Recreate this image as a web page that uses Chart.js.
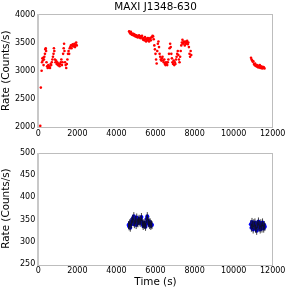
<!DOCTYPE html>
<html><head><meta charset="utf-8">
<script src="https://cdn.jsdelivr.net/npm/chart.js@4.4.0/dist/chart.umd.min.js"></script>
<style>
html,body{margin:0;padding:0;background:#fff;}
#wrap{position:relative;width:289px;height:290px;}
.c{position:absolute;left:0;width:289px;height:145px;}
</style></head><body>
<div id="wrap">
<div class="c" style="top:0"><canvas id="top"></canvas></div>
<div class="c" style="top:145px"><canvas id="bot"></canvas></div>
</div>
<script>
const title = "MAXI J1348-630";
const xTicks = [0,2000,4000,6000,8000,10000,12000];
const topYTicks = [2000,2500,3000,3500,4000];
const botYTicks = [250,300,350,400,450,500];

const topT0 = [100,130];
const topR0 = [2020,2700];
const topT1 = [170,190,210,230,250,270,290,310,340,360,380,400,420,450,480,510,540,570,600,630,660,690,720,750,780,800,820,850,880,910,940,970,1000,1030,1060,1090,1120,1150,1180,1210,1240,1270,1300,1320,1340,1370,1400,1430,1460,1490,1520,1550,1580,1610,1640,1670,1700,1730,1760,1790,1820,1850,1880,1910,1940,1970];
const topR1 = [3000,3150,3220,3180,3230,3100,3200,3250,3300,3380,3400,3350,3150,3080,3050,3100,3060,3080,3050,3120,3100,3150,3200,3250,3300,3400,3350,3200,3150,3180,3120,3150,3100,3130,3100,3080,3120,3150,3200,3100,3150,3300,3400,3480,3350,3150,3100,3050,3120,3200,3300,3350,3300,3400,3420,3450,3400,3450,3470,3430,3450,3480,3420,3460,3500,3450];
const topT2 = [4650,4680,4710,4740,4770,4800,4830,4860,4890,4920,4950,4980,5010,5040,5070,5100,5130,5160,5190,5220,5250,5280,5310,5340,5370,5400,5430,5460,5490,5520,5550,5580,5610,5640,5670,5700,5730,5760,5790,5820,5850,5880,5910,5940,5970,6000,6030,6060,6090,6120,6150,6180,6210,6240,6270,6300,6330,6360,6390,6420,6450,6480,6510,6540,6570,6600,6630,6660,6690,6720,6750,6780,6810,6840,6870,6900,6930,6960,6990,7020,7050,7080,7110,7140,7170,7200,7230,7260,7290,7320,7350,7380,7410,7440,7470,7500,7530,7560,7590,7620,7650,7680,7710,7740,7770,7800,7830];
const topR2 = [3700,3680,3660,3690,3650,3640,3660,3630,3650,3620,3640,3610,3630,3600,3620,3590,3610,3630,3600,3580,3610,3590,3620,3570,3550,3580,3540,3600,3560,3520,3570,3540,3580,3550,3520,3560,3580,3540,3590,3600,3620,3610,3560,3450,3380,3300,3200,3130,3350,3480,3520,3420,3300,3250,3200,3180,3220,3250,3180,3150,3200,3120,3100,3150,3120,3100,3150,3200,3300,3400,3480,3420,3300,3220,3150,3120,3180,3100,3150,3120,3200,3250,3300,3350,3280,3200,3150,3250,3350,3450,3500,3550,3480,3520,3500,3450,3520,3480,3500,3530,3470,3500,3420,3300,3250,3350,3280];
const topT3 = [10890,10920,10950,10980,11010,11040,11070,11100,11130,11160,11190,11220,11250,11280,11310,11340,11370,11400,11430,11460,11490,11520,11550,11580];
const topR3 = [3230,3200,3180,3160,3170,3120,3100,3130,3090,3080,3100,3070,3060,3090,3060,3100,3050,3080,3060,3040,3070,3050,3060,3040];

const botT1 = [4620,4650,4680,4710,4740,4770,4800,4830,4860,4890,4920,4950,4980,5010,5040,5070,5100,5130,5160,5190,5220,5250,5280,5310,5340,5370,5400,5430,5460,5490,5520,5550,5580,5610,5640,5670,5700,5730,5760,5790,5820];
const botR1 = [338,335,342,332,345,340,348,352,344,358,340,346,350,338,355,344,342,348,352,346,343,350,356,345,340,336,342,338,344,334,340,352,358,348,342,346,338,344,336,340,338];
const botT2 = [10880,10910,10940,10970,11000,11030,11060,11090,11120,11150,11180,11210,11240,11270,11300,11330,11360,11390,11420,11450,11480,11510,11540,11570,11600];
const botR2 = [340,332,345,338,328,342,336,344,330,338,325,340,335,346,332,338,328,342,335,330,344,336,330,338,334];

function pts(ts, rs){ return ts.map((t,i)=>({x:t,y:rs[i]})); }

const FONT = "'DejaVu Sans', sans-serif";
const frame = {
  id:'frame',
  afterDraw(c){
    const a=c.chartArea, ctx=c.ctx;
    ctx.save();
    ctx.strokeStyle='#bdbdbd';
    ctx.lineWidth=1;
    ctx.strokeRect(Math.round(a.left)+0.5, Math.round(a.top)+0.5, Math.round(a.right-a.left), Math.round(a.bottom-a.top));
    ctx.fillStyle='#c8c8c8';
    ctx.fillRect(Math.round(a.left)-1, Math.round(a.top), 2, Math.round(a.bottom-a.top)+1);
    ctx.restore();
  }
};

function xScale(showTitle, h){
  return {
    type:'linear', min:0, max:12000,
    afterBuildTicks: s => { s.ticks = xTicks.map(v=>({value:v})); },
    grid:{display:false, drawTicks:false}, border:{display:false},
    ticks:{font:{family:FONT,size:8},color:'#000',padding:2,maxRotation:0,autoSkip:false,callback:v=>String(v)},
    title:{display:showTitle,text:'Time (s)',font:{family:FONT,size:10.4},color:'#000',padding:{top:0,bottom:1}},
    afterFit: s => { s.height = h; }
  };
}
function yScale(lo,hi,tks){
  return {
    type:'linear', min:lo, max:hi,
    afterBuildTicks: s => { s.ticks = tks.map(v=>({value:v})); },
    grid:{display:false, drawTicks:false}, border:{display:false},
    ticks:{font:{family:FONT,size:8},color:'#000',padding:3,callback:v=>String(v)},
    title:{display:true,text:'Rate (Counts/s)',font:{family:FONT,size:10.4},color:'#000',padding:{top:0,bottom:1}},
    afterFit: s => { s.width = 38.3; }
  };
}

const redPt = {type:'scatter', backgroundColor:'#ff0000', borderWidth:0, pointRadius:1.3, showLine:false};

new Chart(document.getElementById('top'), {
  type:'scatter',
  data:{datasets:[
    Object.assign({data:pts(topT0,topR0)},redPt),
    Object.assign({data:pts(topT1,topR1)},redPt),
    Object.assign({data:pts(topT2,topR2)},redPt),
    Object.assign({data:pts(topT3,topR3)},redPt)
  ]},
  options:{
    responsive:true, maintainAspectRatio:false, animation:false,
    layout:{padding:{left:0,right:16.3,top:0,bottom:0}},
    plugins:{legend:{display:false},tooltip:{enabled:false},
      title:{display:true,fullSize:false,text:title,font:{family:FONT,size:10.4,weight:'normal'},color:'#000',padding:{top:1,bottom:1}}},
    scales:{x:xScale(false,18), y:yScale(2000,4000,topYTicks)}
  },
  plugins:[frame]
});

const errStyle = {type:'scatter', pointStyle:'line', rotation:90, pointRadius:4, borderColor:'#111', borderWidth:0.8, backgroundColor:'#111', showLine:false};
const bluePt = {type:'scatter', backgroundColor:'#0000ff', borderWidth:0, pointRadius:2, showLine:false};

new Chart(document.getElementById('bot'), {
  type:'scatter',
  data:{datasets:[
    Object.assign({data:pts(botT1,botR1)},errStyle),
    Object.assign({data:pts(botT2,botR2)},errStyle),
    Object.assign({data:pts(botT1,botR1)},bluePt),
    Object.assign({data:pts(botT2,botR2)},bluePt)
  ]},
  options:{
    responsive:true, maintainAspectRatio:false, animation:false,
    layout:{padding:{left:0,right:16.3,top:5.3,bottom:0}},
    plugins:{legend:{display:false},tooltip:{enabled:false}},
    scales:{x:xScale(true,25.7), y:yScale(250,500,botYTicks)}
  },
  plugins:[frame]
});
</script>
</body></html>
